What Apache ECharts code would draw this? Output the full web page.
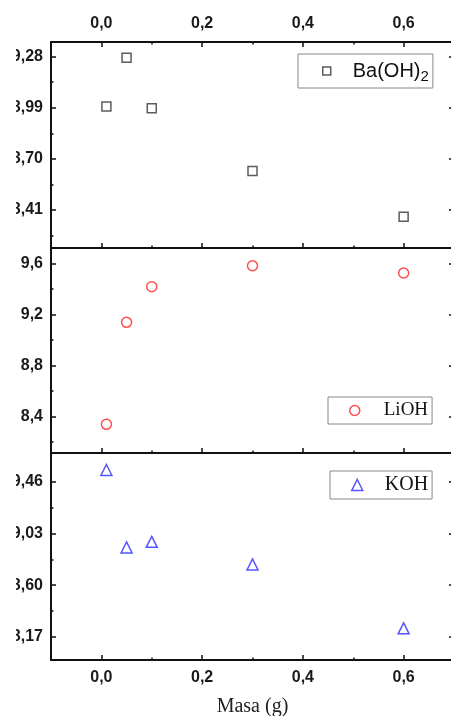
<!DOCTYPE html>
<html><head><meta charset="utf-8">
<script src="https://cdn.jsdelivr.net/npm/echarts@6/dist/echarts.min.js"></script>
<style>html,body{margin:0;padding:0;background:#fff}#c{width:451px;height:716px}</style>
</head><body><div id="c"></div>
<script>
// ---- data ----
const masa = [0.01, 0.05, 0.1, 0.3, 0.6];
const baOH2 = [8.998, 9.274, 8.988, 8.632, 8.372];
const liOH = [8.34, 9.14, 9.42, 9.584, 9.527];
const kOH = [9.557, 8.914, 8.96, 8.773, 8.242];
const xTicks = [0, 0.2, 0.4, 0.6];
const xMinor = [0.1, 0.3, 0.5];
const yTicksBa = [8.41, 8.70, 8.99, 9.28];
const yMinorBa = [8.265, 8.555, 8.845, 9.135];
const yTicksLi = [8.4, 8.8, 9.2, 9.6];
const yMinorLi = [8.2, 8.6, 9.0, 9.4];
const yTicksK = [8.17, 8.60, 9.03, 9.46];
const yMinorK = [8.385, 8.815, 9.245];
const seriesNames = ['Ba(OH)2', 'LiOH', 'KOH'];

// ---- chart ----
const SANS = 'Liberation Sans', SERIF = 'Liberation Serif';
const AX = '#111';
const chart = echarts.init(document.getElementById('c'));

const grid = [
  {left: 51, right: -3, top: 42, height: 206},
  {left: 51, right: -3, top: 248, height: 205},
  {left: 51, right: -3, top: 453, height: 207}
].map(g => Object.assign(g, {containLabel: false, outerBoundsMode: 'none'}));

const xAxis = [], yAxis = [];
const fx = v => v.toFixed(1).replace('.', ',');
const fy = d => v => v.toFixed(d).replace('.', ',');
const labelStyle = {color: '#1a1a1a', fontFamily: SANS, fontWeight: 'bold', fontSize: 16};

function mkX(g, position, labels, line, name) {
  const base = {type: 'value', gridIndex: g, position, min: -0.1, max: 0.7, splitLine: {show: false}};
  xAxis.push(Object.assign({}, base, {
    axisLine: {show: line, onZero: false, lineStyle: {color: AX, width: 2}},
    axisTick: {show: true, inside: true, length: 5, customValues: xTicks, lineStyle: {color: AX, width: 1.5}},
    axisLabel: Object.assign({show: labels, customValues: xTicks, formatter: fx, margin: 10}, labelStyle),
    name: name || '', nameLocation: 'middle', nameGap: 37,
    nameTextStyle: {fontFamily: SERIF, fontSize: 20, color: '#222'}
  }));
  const idx = xAxis.length - 1;
  xAxis.push(Object.assign({}, base, {
    axisLine: {show: false, onZero: false},
    axisTick: {show: true, inside: true, length: 2.5, customValues: xMinor, lineStyle: {color: AX, width: 1.5}},
    axisLabel: {show: false}
  }));
  return idx;
}
function mkY(g, position, min, max, major, minor, dec, labels) {
  const base = {type: 'value', gridIndex: g, position, min, max, splitLine: {show: false}};
  yAxis.push(Object.assign({}, base, {
    axisLine: {show: true, onZero: false, lineStyle: {color: AX, width: 2}},
    axisTick: {show: true, inside: true, length: 5, customValues: major, lineStyle: {color: AX, width: 1.5}},
    axisLabel: Object.assign({show: labels, customValues: major, formatter: fy(dec), margin: 8}, labelStyle)
  }));
  const idx = yAxis.length - 1;
  yAxis.push(Object.assign({}, base, {
    axisLine: {show: false, onZero: false},
    axisTick: {show: true, inside: true, length: 2.5, customValues: minor, lineStyle: {color: AX, width: 1.5}},
    axisLabel: {show: false}
  }));
  return idx;
}

// panel 0
const x0 = mkX(0, 'bottom', false, true);
mkX(0, 'top', true, true);
const y0 = mkY(0, 'left', 8.195, 9.363, yTicksBa, yMinorBa, 2, true);
mkY(0, 'right', 8.195, 9.363, yTicksBa, yMinorBa, 2, false);
// panel 1
const x1 = mkX(1, 'bottom', false, true);
const y1 = mkY(1, 'left', 8.115, 9.723, yTicksLi, yMinorLi, 1, true);
mkY(1, 'right', 8.115, 9.723, yTicksLi, yMinorLi, 1, false);
// panel 2
const x2 = mkX(2, 'bottom', true, true, 'Masa (g)');
const y2 = mkY(2, 'left', 7.979, 9.698, yTicksK, yMinorK, 2, true);
mkY(2, 'right', 7.979, 9.698, yTicksK, yMinorK, 2, false);

const pts = ys => masa.map((x, i) => [x, ys[i]]);
const series = [
  {type: 'scatter', name: seriesNames[0], xAxisIndex: x0, yAxisIndex: y0, data: pts(baOH2),
   symbol: 'rect', symbolSize: 9, itemStyle: {color: '#fff', borderColor: '#333', borderWidth: 1.5}},
  {type: 'scatter', name: seriesNames[1], xAxisIndex: x1, yAxisIndex: y1, data: pts(liOH),
   symbol: 'circle', symbolSize: 10, itemStyle: {color: '#fff', borderColor: '#ff2020', borderWidth: 1.5}},
  {type: 'scatter', name: seriesNames[2], xAxisIndex: x2, yAxisIndex: y2, data: pts(kOH),
   symbol: 'triangle', symbolSize: 11, itemStyle: {color: '#fff', borderColor: '#2a2aff', borderWidth: 1.5}}
];

const legBase = {orient: 'horizontal', borderColor: '#888', borderWidth: 1, backgroundColor: '#fff',
  borderRadius: 0, itemGap: 0, selectedMode: false, itemStyle: {borderWidth: 1.5}};
const legend = [
  Object.assign({}, legBase, {data: [seriesNames[0]], left: 298, top: 54, itemWidth: 8, itemHeight: 8,
    padding: [4, 4, 4, 24],
    formatter: () => '{g| }{a|Ba(OH)}{s|2}',
    textStyle: {color: '#111', rich: {
      g: {width: 17},
      a: {fontFamily: SANS, fontSize: 20, lineHeight: 20, color: '#111', verticalAlign: 'middle'},
      s: {fontFamily: SANS, fontSize: 15, lineHeight: 14, color: '#111', padding: [11, 0, 0, 0], verticalAlign: 'middle'}
    }}}),
  Object.assign({}, legBase, {data: [seriesNames[1]], left: 328, top: 397, itemWidth: 10, itemHeight: 10,
    padding: [4, 4, 4, 21],
    formatter: n => '{g| }{a|' + n + '}',
    textStyle: {color: '#111', rich: {
      g: {width: 19},
      a: {fontFamily: SERIF, fontSize: 19, lineHeight: 20, color: '#111'}
    }}}),
  Object.assign({}, legBase, {data: [seriesNames[2]], left: 330, top: 471, itemWidth: 11, itemHeight: 11,
    padding: [4, 4, 4, 21],
    formatter: n => '{g| }{a|' + n + '}',
    textStyle: {color: '#111', rich: {
      g: {width: 17},
      a: {fontFamily: SERIF, fontSize: 20, lineHeight: 20, color: '#111'}
    }}})
];

// the reference picture is cropped on its left edge, cutting the first digit of wide labels
const graphic = [{type: 'rect', left: 0, top: 0, shape: {width: 16, height: 716}, style: {fill: '#fff'}, z: 100}];

chart.setOption({backgroundColor: '#fff', animation: false, grid, xAxis, yAxis, series, legend, graphic});
</script>
</body></html>
